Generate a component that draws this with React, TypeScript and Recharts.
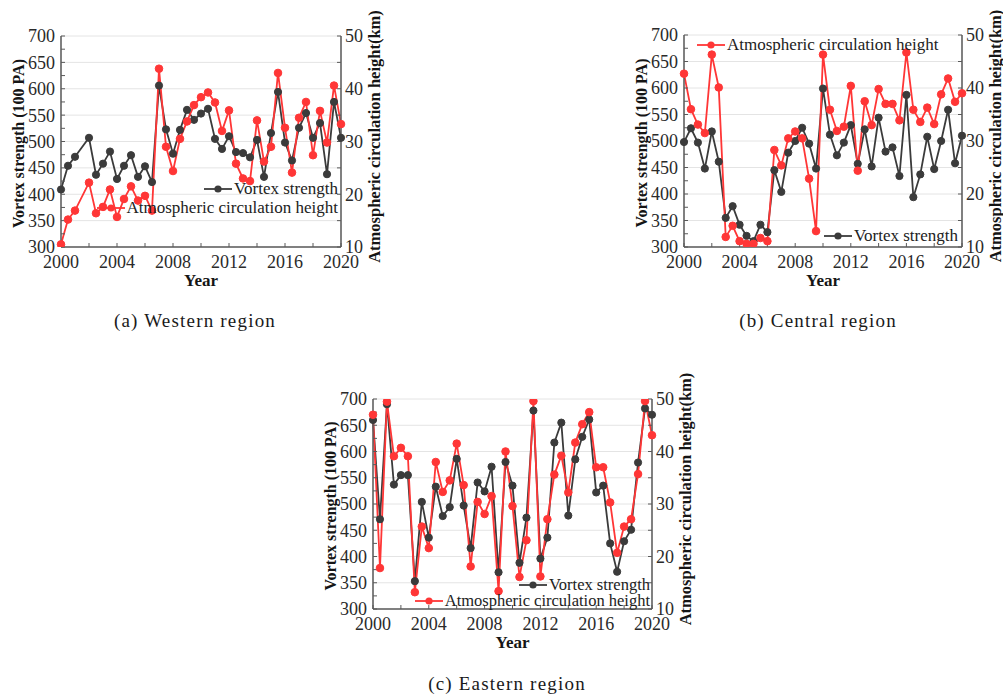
import React from "react";
import { LineChart, Line, XAxis, YAxis, CartesianGrid, Legend } from "recharts";

const YEARS = [
  2000, 2000.5, 2001, 2001.5, 2002, 2002.5, 2003, 2003.5, 2004, 2004.5, 2005,
  2005.5, 2006, 2006.5, 2007, 2007.5, 2008, 2008.5, 2009, 2009.5, 2010,
  2010.5, 2011, 2011.5, 2012, 2012.5, 2013, 2013.5, 2014, 2014.5, 2015,
  2015.5, 2016, 2016.5, 2017, 2017.5, 2018, 2018.5, 2019, 2019.5, 2020,
];

// vortex strength (100 PA), left axis
const WEST_VORTEX = [
  409, 454, 471, null, 507, 437, 458, 481, 429, 454, 474, 433, 453, 423, 606,
  523, 477, 522, 560, 541, 553, 562, 505, 486, 510, 480, 478, 470, 503, 433,
  516, 594, 498, 464, 526, 554, 507, 535, 438, 575, 507,
];
const CENTRAL_VORTEX = [
  498, 524, 497, 448, 518, 461, 355, 377, 342, 321, 311, 342, 328, 445, 404,
  478, 500, 525, 495, 448, 599, 512, 473, 497, 530, 457, 522, 452, 544, 480,
  488, 434, 587, 394, 437, 508, 447, 500, 559, 458, 510,
];
const EAST_VORTEX = [
  660, 471, 690, 537, 555, 555, 353, 504, 436, 533, 477, 494, 586, 497, 416,
  541, 524, 571, 370, 580, 535, 388, 474, 678, 396, 436, 617, 655, 478, 585,
  628, 661, 522, 535, 425, 371, 429, 451, 579, 682, 670,
];

// atmospheric circulation height (km), right axis
const WEST_HEIGHT = [
  10.5, 15.2, 16.9, null, 22.2, 16.4, 17.6, 20.9, 15.7, 19.1, 21.5, 18.8, 19.7,
  16.9, 43.8, 29.0, 24.4, 30.5, 33.8, 36.9, 38.4, 39.3, 37.4, 32.0, 35.9, 25.8,
  23.0, 22.5, 34.0, 26.2, 29.0, 43.0, 32.6, 24.1, 34.5, 37.5, 27.4, 35.8, 29.8,
  40.6, 33.3,
];
const CENTRAL_HEIGHT = [
  42.7, 36.0, 33.1, 31.5, 46.3, 40.1, 11.9, 14.0, 11.1, 10.6, 10.6, 11.7, 11.1,
  28.3, 25.4, 30.5, 31.8, 30.5, 22.9, 13.0, 46.3, 35.9, 31.9, 32.7, 40.4, 24.4,
  37.5, 33.0, 39.8, 37.0, 37.0, 33.9, 46.7, 35.9, 33.6, 36.3, 33.2, 38.8, 41.8,
  37.4, 39.0,
];
const EAST_HEIGHT = [
  47.0, 17.8, 49.5, 39.1, 40.7, 39.1, 13.2, 25.7, 21.6, 38.0, 32.3, 34.5, 41.5,
  33.6, 18.1, 30.4, 28.1, 31.5, 13.4, 40.0, 29.6, 16.1, 23.1, 49.6, 16.2, 27.1,
  35.6, 39.2, 32.2, 41.7, 45.2, 47.5, 37.0, 37.0, 30.3, 20.7, 25.7, 27.1, 35.7,
  49.6, 43.1,
];

const X_TICKS = [2000, 2002, 2004, 2006, 2008, 2010, 2012, 2014, 2016, 2018, 2020];
const X_LABELS = [2000, 2004, 2008, 2012, 2016, 2020];
const LEFT_TICKS = [
  300, 325, 350, 375, 400, 425, 450, 475, 500, 525, 550, 575, 600, 625, 650,
  675, 700,
];
const LEFT_LABELS = [300, 350, 400, 450, 500, 550, 600, 650, 700];
const RIGHT_TICKS = [10, 15, 20, 25, 30, 35, 40, 45, 50];
const RIGHT_LABELS = [10, 20, 30, 40, 50];

const VORTEX_NAME = "Vortex strength";
const HEIGHT_NAME = "Atmospheric circulation height";

const BLACK = "#3b3b3b";
const RED = "#ff3636";
const FRAME = "#5a5a5a";
const SERIF = "'Liberation Serif', 'Times New Roman', serif";

const tickStyle = { fontFamily: SERIF, fontSize: 18, fill: "#2a2a2a" };
const titleStyle: React.CSSProperties = {
  fontFamily: SERIF,
  fontSize: 16,
  fontWeight: "bold",
  fill: "#151515",
};

function makeRows(vortex: (number | null)[], height: (number | null)[]) {
  return YEARS.map((year, i) => ({ year, vortex: vortex[i], height: height[i] }));
}

function leftTitle(props: any) {
  const vb = props.viewBox || { x: 0, y: 36, width: 61, height: 211 };
  const cx = vb.x + 18;
  const cy = vb.y + vb.height / 2 + 2;
  return (
    <text x={cx} y={cy} transform={`rotate(-90 ${cx} ${cy})`} textAnchor="middle"
      dominantBaseline="central" style={titleStyle}>
      Vortex strength (100 PA)
    </text>
  );
}

function rightTitle(props: any) {
  const vb = props.viewBox || { x: 341, y: 36, width: 30, height: 211 };
  const cx = vb.x + 33;
  const cy = vb.y + vb.height / 2 - 5;
  return (
    <text x={cx} y={cy} transform={`rotate(-90 ${cx} ${cy})`} textAnchor="middle"
      dominantBaseline="central" style={{ ...titleStyle, fontSize: 16.5 }}>
      Atmospheric circulation height(km)
    </text>
  );
}

function bottomTitle(props: any) {
  const vb = props.viewBox || { x: 61, y: 247, width: 280, height: 30 };
  return (
    <text x={vb.x + vb.width / 2} y={vb.y + 39} textAnchor="middle"
      style={{ ...titleStyle, fontSize: 17 }}>
      Year
    </text>
  );
}

type LegendRow = { name: string; color: string; right?: number; left?: number; top: number };

function LegendIcon({ color }: { color: string }) {
  return (
    <svg width={28} height={10} style={{ display: "block", flex: "none" }}>
      <line x1={0} y1={5} x2={28} y2={5} stroke={color} strokeWidth={1.8} />
      <circle cx={14} cy={5} r={3.6} fill={color} />
    </svg>
  );
}

function makeLegend(rows: LegendRow[], fontSize: number) {
  return () => (
    <div style={{ position: "relative", width: "100%", height: "100%" }}>
      {rows.map((r) => (
        <div
          key={r.name}
          style={{
            position: "absolute",
            top: r.top,
            left: r.left,
            right: r.right,
            height: 16,
            lineHeight: "16px",
            display: "flex",
            alignItems: "center",
            whiteSpace: "nowrap",
            fontFamily: SERIF,
            fontSize,
            color: "#222",
          }}
        >
          <LegendIcon color={r.color} />
          <span style={{ marginLeft: 2 }}>{r.name}</span>
        </div>
      ))}
    </div>
  );
}

type PanelProps = {
  left: number;
  top: number;
  width: number;
  height: number;
  margin: { top: number; right: number; bottom: number; left: number };
  vortex: (number | null)[];
  heightSeries: (number | null)[];
  legendRows: LegendRow[];
  legendFont: number;
};

function Panel(p: PanelProps) {
  const data = makeRows(p.vortex, p.heightSeries);
  return (
    <div style={{ position: "absolute", left: p.left, top: p.top }}>
      <LineChart width={p.width} height={p.height} data={data} margin={p.margin}>
        <CartesianGrid stroke="#e4e4e4" strokeWidth={1} xAxisId="top" yAxisId="right" />
        <XAxis
          dataKey="year"
          type="number"
          domain={[2000, 2020]}
          ticks={X_TICKS}
          interval={0}
          tickFormatter={(v: number) => (X_LABELS.includes(v) ? String(v) : "")}
          tick={tickStyle}
          tickSize={-4}
          tickMargin={12}
          tickLine={{ stroke: FRAME }}
          axisLine={{ stroke: FRAME, strokeWidth: 1.5 }}
          height={30}
          label={bottomTitle}
        />
        <XAxis
          xAxisId="top"
          orientation="top"
          dataKey="year"
          type="number"
          domain={[2000, 2020]}
          ticks={X_LABELS}
          interval={0}
          tick={false}
          tickSize={-4}
          tickLine={{ stroke: FRAME }}
          axisLine={{ stroke: FRAME, strokeWidth: 1.5 }}
          height={0}
        />
        <YAxis
          yAxisId="left"
          domain={[300, 700]}
          ticks={LEFT_TICKS}
          interval={0}
          allowDataOverflow
          tickFormatter={(v: number) => (LEFT_LABELS.includes(v) ? String(v) : "")}
          tick={tickStyle}
          tickSize={-4}
          tickMargin={10}
          tickLine={{ stroke: FRAME }}
          axisLine={{ stroke: FRAME, strokeWidth: 1.5 }}
          width={61}
          label={leftTitle}
        />
        <YAxis
          yAxisId="right"
          orientation="right"
          domain={[10, 50]}
          ticks={RIGHT_TICKS}
          interval={0}
          allowDataOverflow
          tickFormatter={(v: number) => (RIGHT_LABELS.includes(v) ? String(v) : "")}
          tick={tickStyle}
          tickSize={-4}
          tickMargin={8}
          tickLine={{ stroke: FRAME }}
          axisLine={{ stroke: FRAME, strokeWidth: 1.5 }}
          width={30}
          label={rightTitle}
        />
        <Legend
          layout="vertical"
          align="center"
          verticalAlign="middle"
          content={makeLegend(p.legendRows, p.legendFont)}
          wrapperStyle={{ left: 0, top: 0, width: p.width, height: p.height, pointerEvents: "none" }}
        />
        <Line
          yAxisId="left"
          dataKey="vortex"
          name={VORTEX_NAME}
          stroke={BLACK}
          strokeWidth={1.8}
          dot={{ r: 3.6, fill: BLACK, stroke: BLACK, strokeWidth: 1 }}
          connectNulls
          isAnimationActive={false}
        />
        <Line
          yAxisId="right"
          dataKey="height"
          name={HEIGHT_NAME}
          stroke={RED}
          strokeWidth={1.8}
          dot={{ r: 3.8, fill: RED, stroke: RED, strokeWidth: 1 }}
          connectNulls
          isAnimationActive={false}
        />
      </LineChart>
    </div>
  );
}

const captionStyle: React.CSSProperties = {
  position: "absolute",
  width: 260,
  textAlign: "center",
  fontFamily: SERIF,
  fontSize: 19,
  letterSpacing: 1.2,
  lineHeight: "22px",
  color: "#1a1a1a",
};

export default function App() {
  return (
    <div
      style={{
        position: "absolute",
        left: 0,
        top: 0,
        width: 1003,
        height: 698,
        overflow: "hidden",
        background: "#fff",
      }}
    >
      <Panel
        left={0}
        top={0}
        width={400}
        height={300}
        margin={{ top: 36, right: 29, bottom: 23, left: 0 }}
        vortex={WEST_VORTEX}
        heightSeries={WEST_HEIGHT}
        legendFont={17}
        legendRows={[
          { name: VORTEX_NAME, color: BLACK, right: 62, top: 181 },
          { name: HEIGHT_NAME, color: RED, right: 62, top: 200 },
        ]}
      />
      <Panel
        left={623}
        top={0}
        width={380}
        height={300}
        margin={{ top: 35, right: 11, bottom: 23, left: 0 }}
        vortex={CENTRAL_VORTEX}
        heightSeries={CENTRAL_HEIGHT}
        legendFont={17}
        legendRows={[
          { name: HEIGHT_NAME, color: RED, left: 74, top: 37 },
          { name: VORTEX_NAME, color: BLACK, right: 45, top: 228 },
        ]}
      />
      <Panel
        left={312}
        top={363}
        width={400}
        height={300}
        margin={{ top: 36, right: 30, bottom: 24, left: 0 }}
        vortex={EAST_VORTEX}
        heightSeries={EAST_HEIGHT}
        legendFont={16.5}
        legendRows={[
          { name: VORTEX_NAME, color: BLACK, right: 62, top: 214 },
          { name: HEIGHT_NAME, color: RED, right: 62, top: 230 },
        ]}
      />
      <div style={{ ...captionStyle, left: 65, top: 310 }}>(a) Western region</div>
      <div style={{ ...captionStyle, left: 688, top: 310 }}>(b) Central region</div>
      <div style={{ ...captionStyle, left: 377, top: 673 }}>(c) Eastern region</div>
    </div>
  );
}
